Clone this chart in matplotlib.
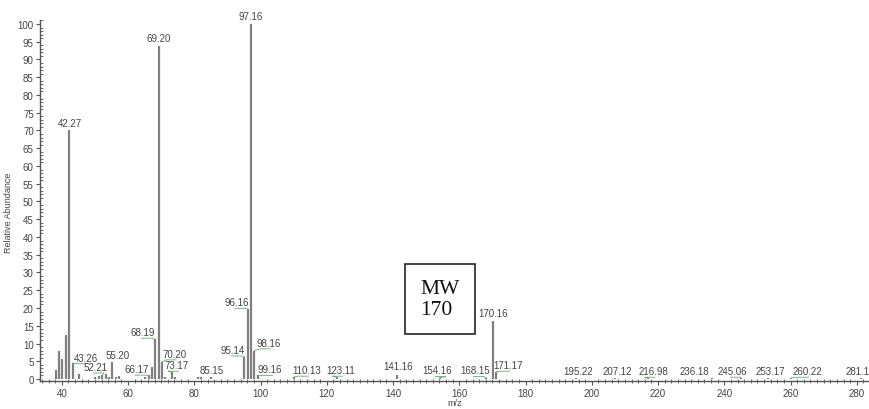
import matplotlib
matplotlib.use("Agg")
import matplotlib.pyplot as plt
from matplotlib.ticker import MultipleLocator

plt.rcParams['font.family'] = ['Liberation Sans', 'DejaVu Sans']

# Centroided spectrum: m/z and relative abundance (%)
mz = [38.1, 39.1, 40.1, 41.2, 42.27, 43.26, 45.2, 50.1, 51.1, 52.21, 53.2,
      54.2, 55.20, 56.2, 57.2, 65.1, 66.17, 67.2, 68.19, 69.20, 70.20, 71.2,
      73.17, 74.2, 81.1, 82.1, 85.15, 95.14, 96.16, 97.16, 98.16, 99.16,
      110.13, 123.11, 141.16, 154.16, 168.15, 170.16, 171.17, 195.22,
      207.12, 216.98, 236.18, 245.06, 253.17, 260.22, 281.16]
abundance = [2.5, 8.0, 5.5, 12.5, 70.0, 4.5, 1.5, 0.5, 0.8, 1.0, 1.5,
             0.7, 4.8, 0.5, 0.8, 0.5, 1.0, 3.5, 11.2, 93.8, 4.8, 0.5,
             2.0, 0.5, 0.5, 0.7, 0.5, 6.2, 19.7, 100.0, 8.0, 1.0,
             0.6, 0.5, 1.0, 0.4, 0.4, 16.4, 2.0, 0.3,
             0.3, 0.3, 0.3, 0.3, 0.3, 0.3, 0.3]

# Peaks carrying an m/z label
labelled = ["42.27", "43.26", "52.21", "55.20", "66.17", "68.19", "69.20",
            "70.20", "73.17", "85.15", "95.14", "96.16", "97.16", "98.16",
            "99.16", "110.13", "123.11", "141.16", "154.16", "168.15",
            "170.16", "171.17", "195.22", "207.12", "216.98", "236.18",
            "245.06", "253.17", "260.22", "281.16"]

# Label placement (text centre x, text bottom y) for labels shifted off their peak
label_pos = {
    "43.26": (47.4, 4.6), "52.21": (50.1, 2.0), "55.20": (56.9, 5.3),
    "66.17": (62.6, 1.4), "68.19": (64.5, 11.8), "70.20": (74.0, 5.7),
    "73.17": (74.7, 2.5), "85.15": (85.3, 1.1), "95.14": (91.7, 6.8),
    "96.16": (92.8, 20.2), "98.16": (102.5, 8.8), "99.16": (102.8, 1.3),
    "110.13": (113.9, 1.1), "123.11": (124.2, 1.1), "141.16": (141.5, 2.2),
    "154.16": (153.3, 1.0), "168.15": (164.8, 1.0), "171.17": (174.7, 2.5),
    "195.22": (195.9, 0.8), "207.12": (207.7, 0.8), "216.98": (218.6, 0.8),
    "236.18": (230.9, 0.8), "245.06": (242.4, 0.8), "253.17": (253.9, 0.8),
    "260.22": (265.0, 0.8), "281.16": (281.0, 0.8),
}
leader = {"43.26", "52.21", "66.17", "68.19", "70.20", "73.17", "95.14",
          "96.16", "98.16", "99.16", "171.17", "110.13", "123.11",
          "154.16", "168.15", "216.98", "245.06", "260.22"}

fig = plt.figure(figsize=(8.7, 4.1), dpi=100)
ax = fig.add_axes([40 / 870, 0.0688, 830 / 870, 0.879])

bar_col = "#808080"
text_col = "#444444"
ax.vlines(mz, 0, abundance, colors=bar_col, linewidth=1.6)

lookup = {f"{m:.2f}": (m, a) for m, a in zip(mz, abundance)}
for lab in labelled:
    m, a = lookup[lab]
    if lab in label_pos:
        tx, ty = label_pos[lab]
    else:
        tx, ty = m, a + 0.8
    ax.text(tx, ty, lab, ha="center", va="bottom", fontsize=7,
            color=text_col, clip_on=False)
    if lab in leader:
        # short underline beneath the label, then a line to the peak top
        half = 2.6
        ux = tx + half if m > tx else tx - half
        ax.plot([tx - half * 0.2 if m > tx else tx + half * 0.2, ux, m],
                [ty - 0.3, ty - 0.3, a], color="#6aa870", linewidth=0.6)

ax.set_xlim(33.4, 284)
ax.set_ylim(-0.5, 101)

ax.xaxis.set_major_locator(MultipleLocator(20))
ax.xaxis.set_minor_locator(MultipleLocator(2))
ax.yaxis.set_major_locator(MultipleLocator(5))
ax.yaxis.set_minor_locator(MultipleLocator(1))
ax.set_yticks(range(0, 101, 5))
ax.tick_params(axis="both", which="major", labelsize=7, labelcolor=text_col,
               color="#555555", length=3, width=0.8, direction="out", pad=1.5)
ax.tick_params(axis="x", which="minor", color="#555555", length=3,
               width=0.6, direction="inout")
ax.tick_params(axis="y", which="minor", color="#555555", length=2,
               width=0.6, direction="in")
ax.tick_params(axis="x", which="major", pad=2)

for side in ("top", "right"):
    ax.spines[side].set_visible(False)
for side in ("left", "bottom"):
    ax.spines[side].set_color("#555555")
    ax.spines[side].set_linewidth(1.0)

ax.set_xlabel("m/z", fontsize=6.5, color=text_col, labelpad=0)
ax.set_ylabel("Relative Abundance", fontsize=6.5, color=text_col)
ax.yaxis.set_label_coords(-0.0325, 0.47)

# Molecular weight callout
ax.text(154.2, 22.5, "MW\n170", ha="center", va="center", fontsize=15.5,
        multialignment="left", family="Liberation Serif", color="#111111",
        linespacing=1.1,
        bbox=dict(boxstyle="square,pad=0.7", facecolor="white",
                  edgecolor="#222222", linewidth=1.2))

fig.savefig("out.png", dpi=100)
